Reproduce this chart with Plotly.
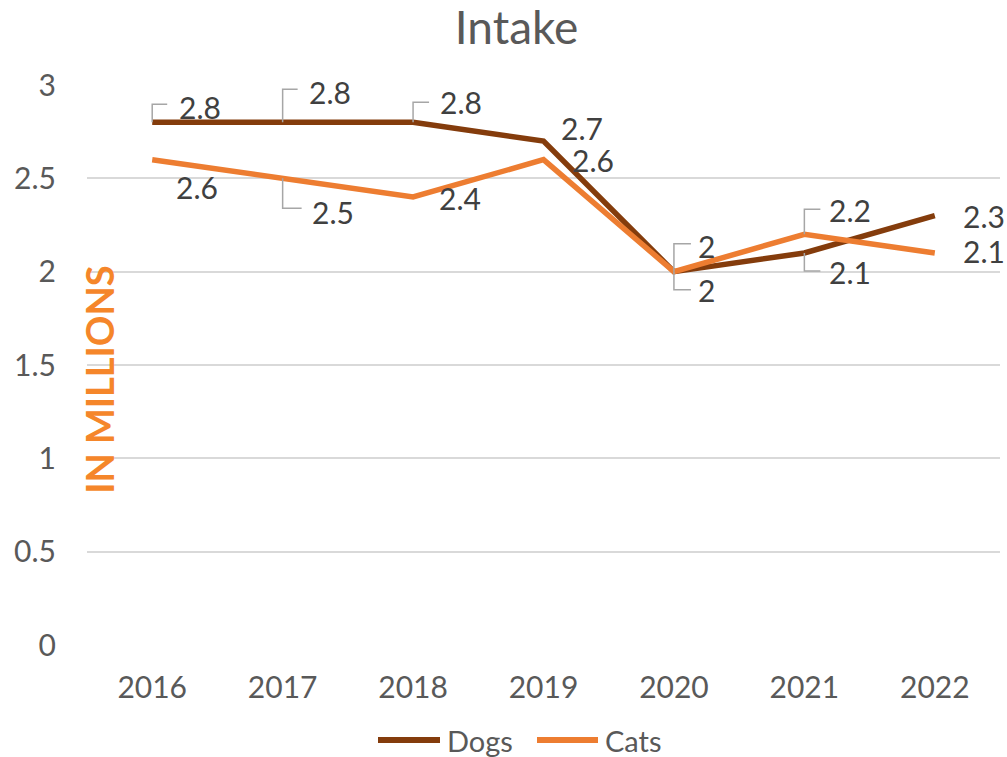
import plotly.graph_objects as go

# ---- data ----
years = ["2016", "2017", "2018", "2019", "2020", "2021", "2022"]
dogs = [2.8, 2.8, 2.8, 2.7, 2.0, 2.1, 2.3]
cats = [2.6, 2.5, 2.4, 2.6, 2.0, 2.2, 2.1]
series_names = ["Dogs", "Cats"]
y_tick_vals = [0, 0.5, 1, 1.5, 2, 2.5, 3]
y_tick_text = ["0", "0.5", "1", "1.5", "2", "2.5", "3"]

# ---- label placement (pixel offsets from each point) ----
dog_label_shift = [(48, 15), (47, 30), (48, 20), (38, 13), (33, -18), (46, -19), (49, 0)]
cat_label_shift = [(45, -27), (50, -34), (47, -1), (49, 0), (33, 26), (46, 24), (49, 2)]
# leader lines: (vertical pixels, horizontal pixels), None = no leader
dog_leaders = [(18, 15), (33, 15), (20, 16), None, (-18, 17), (-18, 16), None]
cat_leaders = [None, (-30, 19), None, None, (28, 17), (25, 16), None]

DOG_COLOR = "#843C0C"
CAT_COLOR = "#ED7D31"
FONT = "Lato"
W, H = 1007, 757
ML, MR, MT, MB = 87, 7, 85, 112
PW, PH = W - ML - MR, H - MT - MB


def px_to_paper(px, py):
    return (px - ML) / PW, (H - MB - py) / PH


fig = go.Figure()
fig.add_trace(go.Scatter(x=list(range(len(years))), y=dogs, name=series_names[0], mode="lines",
                         line=dict(color=DOG_COLOR, width=5.5), hoverinfo="skip", showlegend=False))
fig.add_trace(go.Scatter(x=list(range(len(years))), y=cats, name=series_names[1], mode="lines",
                         line=dict(color=CAT_COLOR, width=5.5), hoverinfo="skip", showlegend=False))

annotations = []
shapes = []
for series, shifts, leaders in ((dogs, dog_label_shift, dog_leaders),
                                (cats, cat_label_shift, cat_leaders)):
    for i, v in enumerate(series):
        dx, dy = shifts[i]
        annotations.append(dict(x=i, y=v, xref="x", yref="y", text=f"{v:g}",
                                showarrow=False, xshift=dx, yshift=dy,
                                xanchor="center", yanchor="middle",
                                font=dict(family=FONT, size=30, color="#404040")))
        if leaders[i] is not None:
            ly, lx = leaders[i]
            shapes.append(dict(type="path", xref="x", yref="y",
                               xsizemode="pixel", ysizemode="pixel",
                               xanchor=i, yanchor=v,
                               path=f"M0,0 L0,{ly} L{lx},{ly}",
                               line=dict(color="#A6A6A6", width=1.5)))

annotations.append(dict(x=0.013, y=0.475, xref="paper", yref="paper",
                        text="<b>IN MILLIONS</b>", textangle=-90, showarrow=False,
                        font=dict(family=FONT, size=38, color="#F5862A"),
                        xanchor="center", yanchor="middle"))

# ---- custom legend (longer line swatches, as in the reference) ----
legend_items = [(series_names[0], DOG_COLOR, 378, 440, 445),
                (series_names[1], CAT_COLOR, 537, 598, 603)]
legend_y = 740
for name, color, x0, x1, tx in legend_items:
    p0x, py = px_to_paper(x0, legend_y)
    p1x, _ = px_to_paper(x1, legend_y)
    shapes.append(dict(type="line", xref="paper", yref="paper", x0=p0x, x1=p1x, y0=py, y1=py,
                       line=dict(color=color, width=6)))
    ptx, _ = px_to_paper(tx, legend_y)
    annotations.append(dict(x=ptx, y=py, xref="paper", yref="paper", text=name,
                            showarrow=False, xanchor="left", yanchor="middle",
                            font=dict(family=FONT, size=29, color="#595959")))

fig.update_layout(
    width=W, height=H,
    margin=dict(l=ML, r=MR, t=MT, b=MB),
    paper_bgcolor="white", plot_bgcolor="white",
    title=dict(text="Intake", x=0.513, y=1 - 28 / H, xanchor="center", yanchor="middle",
               font=dict(family=FONT, size=46, color="#595959")),
    font=dict(family=FONT, color="#595959"),
    xaxis=dict(range=[-0.5, 6.5], tickvals=list(range(len(years))), ticktext=years,
               showgrid=False, showline=False, automargin=False,
               zeroline=False, ticks="", ticklabelstandoff=22,
               tickfont=dict(family=FONT, size=30, color="#595959")),
    yaxis=dict(range=[0, 3], tickvals=y_tick_vals, ticktext=y_tick_text, automargin=False,
               showgrid=True, gridcolor="#D9D9D9", gridwidth=1.5,
               zeroline=False, showline=False, ticks="", ticklabelstandoff=30,
               tickfont=dict(family=FONT, size=30, color="#595959")),
    showlegend=False,
    annotations=annotations,
    shapes=shapes,
    hovermode=False,
)

fig.write_html("out.html", config={"displayModeBar": False},
               post_script="document.body.style.margin='0';document.body.style.overflow='hidden';")
